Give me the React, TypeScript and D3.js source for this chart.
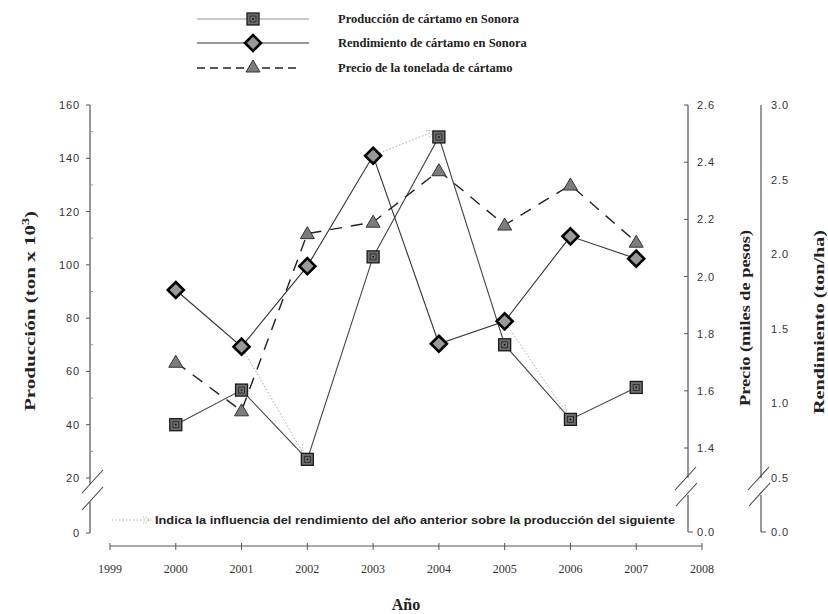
import React, { useEffect, useRef } from 'react';
import * as d3 from 'd3';

// values
const years = [2000, 2001, 2002, 2003, 2004, 2005, 2006, 2007];
const produccion = [40, 53, 27, 103, 148, 70, 42, 54];
const rendimiento = [1.76, 1.38, 1.92, 2.66, 1.4, 1.55, 2.12, 1.97];
const precio = [1.7, 1.53, 2.15, 2.19, 2.37, 2.18, 2.32, 2.12];

const xTicks = [1999, 2000, 2001, 2002, 2003, 2004, 2005, 2006, 2007, 2008];
const prodTicks = [0, 20, 40, 60, 80, 100, 120, 140, 160];
const prodMinor = [30, 50, 70, 90, 110, 130, 150];
const precioTicks = [0, 1.4, 1.6, 1.8, 2.0, 2.2, 2.4, 2.6];
const rendTicks = [0, 0.5, 1.0, 1.5, 2.0, 2.5, 3.0];

// [from year index (rendimiento), to year index (produccion)]
const influence = [[1, 2], [3, 4], [5, 6]];

const legendLabels = [
  'Producción de cártamo en Sonora',
  'Rendimiento de cártamo en Sonora',
  'Precio de la tonelada de cártamo',
];
const noteText = 'Indica la influencia del rendimiento del año anterior sobre la producción del siguiente';

const serif = '"Liberation Serif", "Times New Roman", serif';
const sans = '"Liberation Sans", Arial, sans-serif';

function App() {
  const ref = useRef(null);
  const width = 828;
  const height = 614;

  useEffect(() => {
    d3.select(ref.current).select('svg').remove();
    const svg = d3
      .select(ref.current)
      .append('svg')
      .attr('width', width)
      .attr('height', height)
      .style('display', 'block');

    svg.append('rect').attr('width', width).attr('height', height).attr('fill', '#fff');

    // arrow marker for the influence lines
    svg
      .append('defs')
      .append('marker')
      .attr('id', 'arr')
      .attr('viewBox', '0 0 10 10')
      .attr('refX', 9)
      .attr('refY', 5)
      .attr('markerWidth', 9)
      .attr('markerHeight', 9)
      .attr('orient', 'auto')
      .attr('markerUnits', 'userSpaceOnUse')
      .append('path')
      .attr('d', 'M0,1 L9,5 L0,9')
      .attr('fill', 'none')
      .attr('stroke', '#aaa')
      .attr('stroke-width', 1)
      .attr('stroke-dasharray', '1.5,1.5');

    const x = d3.scaleLinear().domain([1999, 2008]).range([110, 702]);
    // broken axes: polylinear scales
    const yProd = d3.scaleLinear().domain([0, 20, 160]).range([533, 478, 105]);
    const yPrecio = d3.scaleLinear().domain([0, 1.4, 2.6]).range([532, 448, 105]);
    const yRend = d3.scaleLinear().domain([0, 0.5, 3.0]).range([532, 478, 105]);

    const axisColor = '#555';
    const tickFont = (sel) =>
      sel.style('font-family', sans).style('font-size', '11px')
        .style('letter-spacing', '0.9px').attr('fill', '#333');
    const titleFont = (sel) =>
      sel.style('font-family', serif).style('font-size', '15px').style('font-weight', 'bold')
        .attr('lengthAdjust', 'spacingAndGlyphs')
        .attr('fill', '#222');

    // ---- left axis (Producción)
    const lx = 90;
    svg.append('line').attr('x1', lx).attr('x2', lx).attr('y1', yProd(160)).attr('y2', 484)
      .attr('stroke', axisColor).attr('stroke-width', 1.2);
    svg.append('line').attr('x1', lx).attr('x2', lx).attr('y1', 502).attr('y2', yProd(0))
      .attr('stroke', axisColor).attr('stroke-width', 1.2);
    [0, 17].forEach(o => {
      svg.append('line')
        .attr('x1', 82).attr('y1', 493 + o).attr('x2', 103).attr('y2', 470 + o)
        .attr('stroke', '#444').attr('stroke-width', 1.1);
    });
    svg.selectAll('.ptick').data(prodTicks).enter().append('line')
      .attr('x1', lx - 4).attr('x2', lx)
      .attr('y1', d => yProd(d)).attr('y2', d => yProd(d))
      .attr('stroke', axisColor);
    svg.selectAll('.pminor').data(prodMinor).enter().append('line')
      .attr('x1', lx).attr('x2', lx + 3)
      .attr('y1', d => yProd(d)).attr('y2', d => yProd(d))
      .attr('stroke', '#999');
    svg.selectAll('.plab').data(prodTicks).enter().append('text')
      .attr('x', 80).attr('y', d => yProd(d) + 4)
      .attr('text-anchor', 'end')
      .call(tickFont)
      .text(d => d);

    const ptitle = svg.append('text')
      .attr('transform', 'translate(35,311) rotate(-90)')
      .attr('text-anchor', 'middle')
      .attr('textLength', 200)
      .call(titleFont);
    ptitle.append('tspan').text('Producción (ton x 10');
    ptitle.append('tspan').attr('dy', -6).style('font-size', '10px').text('3');
    ptitle.append('tspan').attr('dy', 6).text(')');

    // ---- right axis (Precio)
    const px = 688;
    svg.append('line').attr('x1', px).attr('x2', px).attr('y1', yPrecio(2.6)).attr('y2', 478)
      .attr('stroke', axisColor).attr('stroke-width', 1.2);
    svg.append('line').attr('x1', px).attr('x2', px).attr('y1', 495).attr('y2', yPrecio(0))
      .attr('stroke', axisColor).attr('stroke-width', 1.2);
    svg.append('line').attr('x1', 675).attr('y1', 490).attr('x2', 696).attr('y2', 467)
      .attr('stroke', '#444').attr('stroke-width', 1.1);
    svg.append('line').attr('x1', 676).attr('y1', 506).attr('x2', 697).attr('y2', 483)
      .attr('stroke', '#444').attr('stroke-width', 1.1);
    svg.selectAll('.prtick').data(precioTicks.filter(d => d > 0)).enter().append('line')
      .attr('x1', px - 4).attr('x2', px)
      .attr('y1', d => yPrecio(d)).attr('y2', d => yPrecio(d))
      .attr('stroke', axisColor);
    svg.append('line').attr('x1', px).attr('x2', px + 5)
      .attr('y1', yPrecio(0)).attr('y2', yPrecio(0)).attr('stroke', axisColor);
    svg.selectAll('.prlab').data(precioTicks).enter().append('text')
      .attr('x', 697).attr('y', d => yPrecio(d) + 4)
      .call(tickFont)
      .text(d => d.toFixed(1));
    svg.append('text')
      .attr('transform', 'translate(750,318) rotate(-90)')
      .attr('text-anchor', 'middle')
      .attr('textLength', 176)
      .call(titleFont)
      .text('Precio (miles de pesos)');

    // ---- right axis (Rendimiento)
    const rx = 761;
    svg.append('line').attr('x1', rx).attr('x2', rx).attr('y1', yRend(3.0)).attr('y2', 478)
      .attr('stroke', axisColor).attr('stroke-width', 1.2);
    svg.append('line').attr('x1', rx).attr('x2', rx).attr('y1', 495).attr('y2', yRend(0))
      .attr('stroke', axisColor).attr('stroke-width', 1.2);
    svg.append('line').attr('x1', 748).attr('y1', 490).attr('x2', 769).attr('y2', 467)
      .attr('stroke', '#444').attr('stroke-width', 1.1);
    svg.append('line').attr('x1', 749).attr('y1', 506).attr('x2', 770).attr('y2', 483)
      .attr('stroke', '#444').attr('stroke-width', 1.1);
    svg.append('line').attr('x1', rx).attr('x2', rx + 5)
      .attr('y1', yRend(0)).attr('y2', yRend(0)).attr('stroke', axisColor);
    svg.selectAll('.rlab').data(rendTicks).enter().append('text')
      .attr('x', 771).attr('y', d => yRend(d) + 4)
      .call(tickFont)
      .text(d => d.toFixed(1));
    svg.append('text')
      .attr('transform', 'translate(824,322) rotate(-90)')
      .attr('text-anchor', 'middle')
      .attr('textLength', 184)
      .call(titleFont)
      .text('Rendimiento (ton/ha)');

    // ---- x axis
    const ay = 546;
    svg.append('line').attr('x1', x(1999)).attr('x2', x(2008)).attr('y1', ay).attr('y2', ay)
      .attr('stroke', axisColor).attr('stroke-width', 1.2);
    svg.selectAll('.xtick').data(xTicks).enter().append('line')
      .attr('x1', d => x(d)).attr('x2', d => x(d))
      .attr('y1', ay - 3).attr('y2', ay + 4)
      .attr('stroke', axisColor);
    svg.selectAll('.xlab').data(xTicks).enter().append('text')
      .attr('x', d => x(d)).attr('y', 573)
      .attr('text-anchor', 'middle')
      .style('font-family', serif).style('font-size', '12px').attr('fill', '#333')
      .text(d => d);
    svg.append('text')
      .attr('x', 406).attr('y', 610)
      .attr('text-anchor', 'middle')
      .style('font-family', serif).style('font-size', '16px').style('font-weight', 'bold')
      .attr('fill', '#222')
      .text('Año');

    // ---- data lines
    const prodLine = d3.line().x((d, i) => x(years[i])).y(d => yProd(d));
    const rendLine = d3.line().x((d, i) => x(years[i])).y(d => yRend(d));
    const precioLine = d3.line().x((d, i) => x(years[i])).y(d => yPrecio(d));

    svg.append('path').datum(produccion).attr('d', prodLine)
      .attr('fill', 'none').attr('stroke', '#444').attr('stroke-width', 1.1);
    svg.append('path').datum(rendimiento).attr('d', rendLine)
      .attr('fill', 'none').attr('stroke', '#333').attr('stroke-width', 1.1);
    svg.append('path').datum(precio).attr('d', precioLine)
      .attr('fill', 'none').attr('stroke', '#222').attr('stroke-width', 1.4)
      .attr('stroke-dasharray', '12,9');

    // influence arrows
    influence.forEach(([a, b]) => {
      svg.append('line')
        .attr('x1', x(years[a])).attr('y1', yRend(rendimiento[a]))
        .attr('x2', x(years[b]) - 4).attr('y2', yProd(produccion[b]) - 6)
        .attr('stroke', '#aaa').attr('stroke-width', 1)
        .attr('stroke-dasharray', '1.5,2')
        .attr('marker-end', 'url(#arr)');
    });

    // ---- markers
    const drawSquare = (g, cx, cy) => {
      g.append('rect').attr('x', cx - 6).attr('y', cy - 6).attr('width', 12).attr('height', 12)
        .attr('fill', '#6e6e6e').attr('stroke', '#1a1a1a').attr('stroke-width', 1.3);
      g.append('rect').attr('x', cx - 3).attr('y', cy - 3).attr('width', 6).attr('height', 6)
        .attr('fill', 'none').attr('stroke', '#2a2a2a').attr('stroke-width', 0.9);
      g.append('circle').attr('cx', cx).attr('cy', cy).attr('r', 0.9).attr('fill', '#111');
    };
    const drawDiamond = (g, cx, cy) => {
      g.append('path')
        .attr('d', `M${cx},${cy - 8}L${cx + 8},${cy}L${cx},${cy + 8}L${cx - 8},${cy}Z`)
        .attr('fill', '#999').attr('stroke', '#000').attr('stroke-width', 2.6)
        .attr('stroke-linejoin', 'miter');
    };
    const drawTriangle = (g, cx, cy) => {
      g.append('path')
        .attr('d', `M${cx},${cy - 7}L${cx + 7},${cy + 5}L${cx - 7},${cy + 5}Z`)
        .attr('fill', '#7d7d7d').attr('stroke', '#333').attr('stroke-width', 1);
    };

    const gm = svg.append('g');
    precio.forEach((d, i) => drawTriangle(gm, x(years[i]), yPrecio(d)));
    rendimiento.forEach((d, i) => drawDiamond(gm, x(years[i]), yRend(d)));
    produccion.forEach((d, i) => drawSquare(gm, x(years[i]), yProd(d)));

    // ---- legend
    const legY = [19, 43, 68];
    const lg = svg.append('g');
    lg.append('line').attr('x1', 197).attr('x2', 309).attr('y1', legY[0]).attr('y2', legY[0])
      .attr('stroke', '#c8c8c8').attr('stroke-width', 2);
    lg.append('line').attr('x1', 197).attr('x2', 309).attr('y1', legY[1]).attr('y2', legY[1])
      .attr('stroke', '#333').attr('stroke-width', 1.1);
    lg.append('line').attr('x1', 197).attr('x2', 300).attr('y1', legY[2]).attr('y2', legY[2])
      .attr('stroke', '#222').attr('stroke-width', 1.4).attr('stroke-dasharray', '8,5');
    drawSquare(lg, 253, legY[0]);
    drawDiamond(lg, 253, legY[1]);
    drawTriangle(lg, 253, legY[2] - 1);
    lg.selectAll('.ltxt').data(legendLabels).enter().append('text')
      .attr('x', 338).attr('y', (d, i) => legY[i] + 4)
      .style('font-family', serif).style('font-size', '12.5px').style('font-weight', 'bold')
      .attr('fill', '#222')
      .text(d => d);

    // ---- note for the dotted lines
    svg.append('line').attr('x1', 112).attr('x2', 151).attr('y1', 520).attr('y2', 520)
      .attr('stroke', '#aaa').attr('stroke-width', 1).attr('stroke-dasharray', '1.5,2')
      .attr('marker-end', 'url(#arr)');
    svg.append('text')
      .attr('x', 155).attr('y', 524)
      .attr('textLength', 520).attr('lengthAdjust', 'spacingAndGlyphs')
      .style('font-family', sans).style('font-size', '10px').style('font-weight', 'bold')
      .attr('fill', '#222')
      .text(noteText);

    return () => {
      d3.select(ref.current).select('svg').remove();
    };
  }, []);

  return (
    <div
      ref={ref}
      style={{ position: 'absolute', left: 0, top: 0, width: width, height: height, overflow: 'hidden' }}
    ></div>
  );
}

export default App;
